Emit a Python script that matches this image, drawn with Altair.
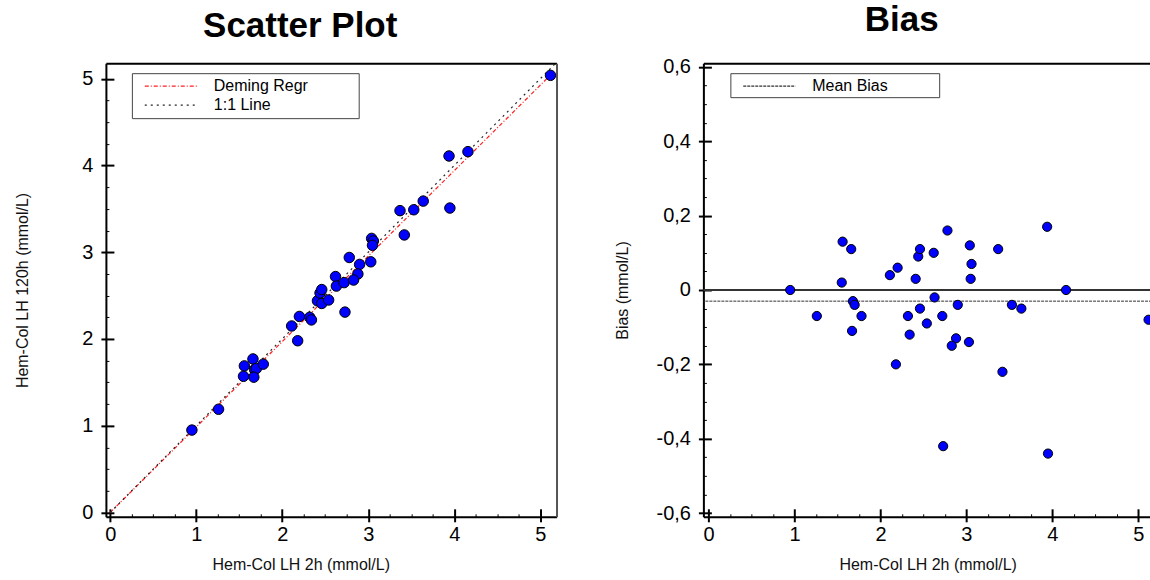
import altair as alt
import pandas as pd

# ---------------- data ----------------
x_2h = [0.95, 1.26, 1.56, 1.66, 1.55, 1.68, 1.70, 1.78, 1.67, 2.11,
        2.20, 2.18, 2.32, 2.34, 2.41, 2.44, 2.46, 2.46, 2.54, 2.62,
        2.63, 2.72, 2.78, 2.73, 2.90, 2.88, 2.83, 3.03, 3.04, 3.06,
        3.05, 3.37, 3.42, 3.53, 3.64, 3.94, 3.95, 4.16, 5.12]
y_120h = [0.95, 1.19, 1.69, 1.77, 1.57, 1.65, 1.66, 1.71, 1.56, 2.15,
          2.26, 1.98, 2.25, 2.22, 2.44, 2.53, 2.57, 2.41, 2.45, 2.72,
          2.61, 2.65, 2.94, 2.31, 2.86, 2.75, 2.68, 2.89, 3.16, 3.13,
          3.08, 3.48, 3.20, 3.49, 3.59, 4.11, 3.51, 4.16, 5.04]
deming_intercept = 0.0
deming_slope = 0.985
deming_x = [0.0, 5.12]
identity_x = [0.0, 5.17]
mean_bias = -0.03
zero_line = [0.0]

series_scatter = ["Deming Regr", "1:1 Line"]
series_bias = ["Mean Bias"]
scatter_colors = ["#ff2020", "#222222"]
scatter_dashes = [[4, 2, 1, 2], [2, 4]]
bias_color = "#333333"
bias_dash = [3, 1]

xy_major = [0, 1, 2, 3, 4, 5]
xy_minor = [v / 4 for v in range(0, 21) if v % 4 != 0]
bias_major = [-0.6, -0.4, -0.2, 0.0, 0.2, 0.4, 0.6]
bias_minor = [round(-0.6 + 0.05 * i, 2) for i in range(25) if i % 4 != 0]

FONT = "Liberation Sans"
LBL = 20
TTL = 16

bias_vals = [round(b - a, 3) for a, b in zip(x_2h, y_120h)]
pts = pd.DataFrame({"x": x_2h, "y": y_120h, "bias": bias_vals})
lines = pd.DataFrame({
    "x": deming_x + identity_x,
    "y": [deming_intercept + deming_slope * v for v in deming_x] + identity_x,
    "series": [series_scatter[0]] * 2 + [series_scatter[1]] * 2,
})
zero_df = pd.DataFrame({"b": zero_line})
mean_df = pd.DataFrame({"b": [mean_bias], "series": series_bias})

xs = alt.Scale(domain=[-0.05, 5.19], nice=False, zero=False)
ys = alt.Scale(domain=[-0.05, 5.18], nice=False, zero=False)
xb = alt.Scale(domain=[-0.06, 5.16], nice=False, zero=False)
bs = alt.Scale(domain=[-0.61, 0.61], nice=False, zero=False)

int_expr = "format(datum.value, 'd')"
comma_expr = ("datum.value == 0 ? '0' : (datum.value < 0 ? '-' : '') + "
              "replace(format(abs(datum.value), '.1f'), '.', ',')")


def main_axis(values, orient, title, expr, **kw):
    return alt.Axis(values=values, orient=orient, title=title, labelExpr=expr,
                    grid=False, domain=True, domainColor="black", domainWidth=2,
                    ticks=True, tickColor="black", tickWidth=2, tickSize=5,
                    labelFont=FONT, labelFontSize=LBL, labelColor="black",
                    labelOverlap=False,
                    titleFont=FONT, titleFontSize=TTL, titleFontWeight="normal",
                    titleColor="#111", **kw)


def inner_axis(values, orient, size, width):
    return alt.Axis(values=values, orient=orient, title=None, grid=False,
                    domain=False, labels=False, ticks=True, tickColor="black",
                    tickWidth=width, tickSize=size, offset=-size)


def frame_axis(orient, color):
    return alt.Axis(orient=orient, title=None, grid=False, domain=True,
                    domainColor=color, domainWidth=2, labels=False, ticks=False)


def ax_layer(df, xf, yf, xsc, ysc, xaxis, yaxis):
    return alt.Chart(df).mark_point(opacity=0).encode(
        x=alt.X(f"{xf}:Q", scale=xsc, axis=xaxis),
        y=alt.Y(f"{yf}:Q", scale=ysc, axis=yaxis),
    )


def legend(lx, ly, value, path, boxed, z, **kw):
    extra = dict(fillColor="white", strokeColor="#444") if boxed else {}
    return alt.Legend(
        orient="none", legendX=lx, legendY=ly, title=None, values=[value],
        symbolType=path, symbolSize=324, symbolStrokeWidth=1.2,
        symbolOffset=26, labelOffset=33,
        labelFont=FONT, labelFontSize=16, labelColor="black",
        padding=3, zindex=z, **extra, **kw,
    )


# ---------------- scatter panel ----------------
line_layer = alt.Chart(lines).mark_line(strokeWidth=1.2, clip=True).encode(
    x=alt.X("x:Q", scale=xs, axis=None),
    y=alt.Y("y:Q", scale=ys, axis=None),
    detail="series:N",
    color=alt.Color("series:N", scale=alt.Scale(domain=series_scatter, range=scatter_colors),
                    legend=legend(26, 10, series_scatter[0], "M-2.9,0H2.9M20.2,2.9", True, 1,
                                  symbolDash=scatter_dashes[0])),
    strokeDash=alt.StrokeDash("series:N", scale=alt.Scale(domain=series_scatter[::-1], range=scatter_dashes[::-1]),
                              legend=legend(26, 29, series_scatter[1], "M-2.9,0H2.9", False, 2,
                                            symbolStrokeColor=scatter_colors[1])),
)
pt_layer = alt.Chart(pts).mark_circle(color="#0000ff", stroke="black", strokeWidth=1,
                                      size=110, opacity=1, clip=True).encode(
    x=alt.X("x:Q", scale=xs, axis=None),
    y=alt.Y("y:Q", scale=ys, axis=None),
)

left = alt.layer(
    line_layer, pt_layer,
    ax_layer(pts, "x", "y", xs, ys,
             main_axis(xy_major, "bottom", "Hem-Col LH 2h (mmol/L)", int_expr,
                       labelPadding=3, titlePadding=12, titleX=195),
             main_axis(xy_major, "left", "Hem-Col LH 120h (mmol/L)", int_expr,
                       labelPadding=8, titlePadding=51)),
    ax_layer(pts, "x", "y", xs, ys, inner_axis(xy_major, "bottom", 8, 2), inner_axis(xy_major, "left", 8, 2)),
    ax_layer(pts, "x", "y", xs, ys, inner_axis(xy_minor, "bottom", 3, 1), inner_axis(xy_minor, "left", 3, 1)),
    ax_layer(pts, "x", "y", xs, ys, frame_axis("top", "black"), frame_axis("right", "#555555")),
).resolve_axis(x="independent", y="independent").properties(
    width=451, height=454,
    title=alt.TitleParams("Scatter Plot", font=FONT, fontSize=35, fontWeight="bold",
                          color="black", anchor="middle", dx=-31, offset=19),
)

# ---------------- bias panel ----------------
zero_layer = alt.Chart(zero_df).mark_rule(color="#333333", strokeWidth=2).encode(
    y=alt.Y("b:Q", scale=bs, axis=None),
)
mean_layer = alt.Chart(mean_df).mark_rule(strokeWidth=1, color=bias_color).encode(
    y=alt.Y("b:Q", scale=bs, axis=None),
    strokeDash=alt.StrokeDash("series:N", scale=alt.Scale(domain=series_bias, range=[bias_dash]),
                              legend=legend(27, 10, series_bias[0], "M-2.9,0H2.9M18.2,0", True, 1,
                                            symbolStrokeColor=bias_color)),
)
bias_pts = alt.Chart(pts).mark_circle(color="#0000ff", stroke="black", strokeWidth=1,
                                      size=85, opacity=1, clip=True).encode(
    x=alt.X("x:Q", scale=xb, axis=None),
    y=alt.Y("bias:Q", scale=bs, axis=None),
)

right = alt.layer(
    zero_layer, mean_layer, bias_pts,
    ax_layer(pts, "x", "bias", xb, bs,
             main_axis(xy_major, "bottom", "Hem-Col LH 2h (mmol/L)", int_expr,
                       labelPadding=3, titlePadding=12),
             main_axis(bias_major, "left", "Bias (mmol/L)", comma_expr,
                       labelPadding=8, titlePadding=25)),
    ax_layer(pts, "x", "bias", xb, bs, inner_axis(xy_major, "bottom", 8, 2), inner_axis(bias_major, "left", 8, 2)),
    ax_layer(pts, "x", "bias", xb, bs, inner_axis(xy_minor, "bottom", 3, 1), inner_axis(bias_minor, "left", 3, 1)),
    ax_layer(pts, "x", "bias", xb, bs, frame_axis("top", "black"), None),
).resolve_axis(x="independent", y="independent").properties(
    width=449, height=454,
    title=alt.TitleParams("Bias", font=FONT, fontSize=35, fontWeight="bold",
                          color="black", anchor="middle", dx=-26, offset=19),
)

chart = alt.hconcat(left, right, spacing=57).resolve_scale(
    color="independent", strokeDash="independent"
).properties(
    padding={"left": 14, "top": 2, "right": -4, "bottom": 0},
).configure_view(stroke="transparent", strokeWidth=0).configure(background="white")

chart.save("out.html", embed_options={"renderer": "svg", "actions": False})
